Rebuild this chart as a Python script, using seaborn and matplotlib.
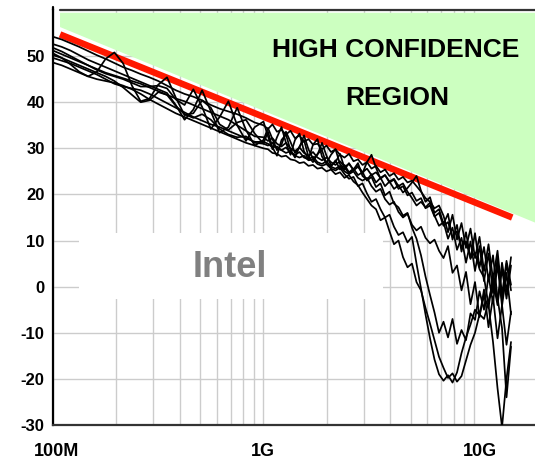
import numpy as np
import pandas as pd
import matplotlib
matplotlib.use("Agg")
import matplotlib.pyplot as plt
import matplotlib.transforms as mtransforms
import seaborn as sns
from matplotlib.ticker import LogLocator, NullFormatter, FixedLocator
from matplotlib.patches import Rectangle

# Measurement frequency grid (Hz): coarse below 1 GHz, dense above
freq_lo = 1e8 * 10 ** (np.arange(24) / 24)
freq_hi = 1e9 * 15 ** (np.arange(56) / 55)
freq = np.concatenate([freq_lo, freq_hi])

# Measured traces (dB)
trace_1 = [54.2, 53.6, 52.8, 52.0, 51.1, 50.2, 49.4, 48.5, 47.6, 46.9, 46.1, 45.4,
           44.6, 43.6, 42.6, 41.8, 41.2, 40.4, 39.4, 38.6, 38.0, 37.4, 36.6, 35.6,
           35.0, 34.2, 35.2, 33.6, 34.0, 33.0, 33.8, 32.2, 32.8, 31.4, 32.0, 30.8,
           31.0, 29.8, 30.6, 29.2, 29.8, 28.6, 28.0, 28.8, 27.2, 27.6, 26.4, 27.0,
           25.6, 26.2, 24.8, 25.4, 24.0, 24.6, 23.2, 23.8, 22.6, 23.0, 21.8, 20.6,
           19.2, 18.4, 17.0, 17.6, 15.4, 11.8, 15.6, 10.2, 13.8, 8.4, 12.6, 6.2,
           10.8, 3.4, 9.2, 1.6, 7.8, -1.8, 5.6, 0.4]
trace_2 = [50.6, 49.6, 48.2, 46.6, 45.6, 46.6, 49.4, 50.8, 48.4, 43.6, 40.2, 40.8,
           43.8, 45.4, 41.0, 37.2, 37.6, 40.4, 38.8, 35.2, 34.0, 35.6, 36.2, 33.2,
           31.0, 33.6, 30.2, 28.4, 31.8, 33.0, 29.6, 28.0, 30.4, 31.8, 28.2, 27.0,
           28.8, 29.6, 26.6, 26.0, 27.4, 25.4, 26.4, 24.8, 25.6, 24.2, 24.8, 23.0,
           23.8, 21.6, 22.4, 19.8, 20.6, 18.0, 17.2, 15.4, 16.0, 12.8, 10.4, 6.8,
           2.2, -1.8, -5.6, -10.0, -7.6, -11.0, -7.0, -12.4, -9.4, -11.6, -5.8, -7.2,
           -1.0, -5.0, 2.4, -3.6, 4.8, -4.2, 3.0, -6.0]
trace_3 = [51.8, 51.0, 50.0, 49.0, 48.0, 47.0, 46.2, 45.6, 45.0, 44.2, 43.4, 43.4,
           43.6, 43.0, 40.6, 39.4, 42.8, 39.0, 34.2, 36.8, 40.2, 35.0, 31.6, 34.6,
           35.8, 32.6, 29.8, 32.4, 34.6, 31.2, 28.6, 31.8, 33.2, 29.4, 27.6, 30.8,
           32.0, 28.2, 26.8, 28.6, 29.8, 26.6, 25.4, 26.8, 25.2, 26.0, 24.6, 27.0,
           28.6, 25.8, 23.4, 24.2, 22.6, 23.2, 21.2, 21.8, 19.8, 20.4, 18.6, 19.2,
           17.0, 17.6, 15.2, 16.0, 13.2, 14.0, 10.8, 12.0, 8.6, 9.8, 6.2, 7.4,
           3.8, 2.0, -4.0, -12.0, -22.0, -30.5, -20.0, -12.0]
trace_4 = [48.6, 48.0, 47.2, 46.4, 45.6, 45.0, 44.6, 44.2, 43.6, 42.8, 41.8, 40.6,
           39.6, 38.6, 37.6, 36.8, 36.0, 35.2, 34.4, 33.6, 32.8, 32.0, 31.2, 30.6,
           30.0, 29.8, 29.0, 28.8, 28.2, 28.4, 27.6, 27.4, 26.8, 27.0, 26.2, 26.4,
           25.6, 25.8, 25.0, 25.4, 24.4, 24.8, 23.6, 24.2, 22.8, 22.0, 20.4, 19.0,
           17.6, 16.8, 14.4, 15.0, 12.0, 9.2, 10.0, 6.4, 4.2, 5.0, 1.0, -0.8,
           -4.6, -8.0, -11.6, -15.2, -17.6, -19.8, -18.8, -20.6, -19.4, -16.0, -12.6, -10.0,
           -6.0, -7.0, -3.2, 1.4, -4.0, 3.8, -2.6, 4.6]
trace_5 = [49.6, 49.0, 48.4, 47.6, 46.8, 46.0, 45.0, 44.0, 43.4, 43.0, 42.6, 41.8,
           40.8, 39.8, 38.8, 37.8, 36.8, 36.0, 35.2, 34.6, 33.8, 33.0, 32.2, 31.4,
           31.4, 31.0, 30.2, 30.4, 29.6, 29.0, 29.4, 28.4, 28.0, 28.4, 27.4, 27.6,
           26.6, 26.2, 26.6, 25.6, 25.2, 25.8, 24.4, 23.4, 23.8, 21.8, 22.4, 20.2,
           18.4, 19.0, 16.8, 15.0, 15.6, 13.0, 11.2, 11.8, 9.6, 10.8, 5.0, -0.4,
           -6.0, -11.2, -15.8, -19.0, -20.4, -19.2, -20.8, -18.6, -14.4, -11.0, -8.2, -5.0,
           -6.2, -2.0, -4.6, 2.0, -3.2, 5.2, -1.0, 6.4]
trace_6 = [52.6, 52.0, 51.2, 50.2, 49.2, 48.4, 47.6, 46.8, 46.0, 45.2, 44.4, 43.6,
           42.8, 42.0, 39.4, 36.2, 38.4, 42.6, 38.0, 33.4, 34.6, 38.8, 34.0, 30.6,
           31.8, 34.4, 32.0, 29.6, 30.8, 33.6, 31.4, 29.0, 30.2, 32.8, 29.8, 27.8,
           28.6, 31.2, 28.4, 26.4, 27.0, 28.8, 25.8, 24.6, 25.4, 26.8, 24.0, 23.2,
           24.4, 22.6, 23.6, 21.8, 22.8, 21.2, 22.0, 20.4, 21.4, 22.6, 24.0, 20.8,
           18.4, 19.4, 16.0, 16.8, 13.6, 15.8, 10.2, 13.4, 7.6, 11.8, 6.0, 11.6,
           4.2, 8.6, 1.4, 6.8, -2.4, -9.0, -24.0, -13.0]
trace_7 = [50.2, 49.6, 48.8, 48.0, 47.2, 46.4, 45.6, 44.6, 43.2, 41.6, 40.0, 40.4,
           42.2, 41.6, 39.2, 37.4, 36.6, 37.4, 36.2, 34.2, 33.0, 32.4, 32.6, 31.2,
           31.0, 30.6, 31.2, 30.0, 29.6, 30.2, 29.0, 28.6, 29.2, 28.0, 27.6, 28.2,
           27.0, 26.6, 27.2, 26.0, 25.6, 26.2, 25.0, 24.4, 25.0, 23.6, 23.0, 23.6,
           21.8, 20.6, 21.2, 19.0, 17.8, 18.4, 16.2, 15.0, 15.8, 13.4, 12.2, 13.0,
           10.6, 9.4, 10.2, 7.8, 6.2, 8.8, 3.0, 4.6, -0.8, 3.2, -3.8, 1.0,
           -6.6, -0.6, -8.8, -2.2, -11.2, -4.0, -12.6, -5.4]
trace_8 = [51.2, 50.4, 49.6, 48.8, 48.0, 47.2, 46.4, 45.8, 45.2, 44.6, 44.0, 43.2,
           42.4, 41.6, 40.8, 40.2, 39.4, 38.6, 37.8, 37.0, 36.2, 35.0, 33.8, 32.6,
           32.4, 31.6, 32.2, 31.0, 30.4, 31.2, 30.0, 29.4, 30.2, 29.0, 28.4, 29.2,
           28.0, 27.4, 28.0, 27.0, 26.4, 27.2, 26.0, 26.6, 25.4, 26.2, 24.8, 25.6,
           24.2, 24.8, 23.6, 24.2, 22.8, 23.4, 21.8, 22.4, 20.6, 19.2, 17.6, 18.4,
           17.2, 18.2, 15.4, 13.2, 14.0, 10.4, 12.8, 8.0, 10.6, 5.2, 9.8, 3.4,
           8.8, 1.2, 7.2, -1.4, 6.2, -3.0, 5.0, -0.8]

# Confidence limit line and the region above it
limit_freq = [1.08e8, 1.52e10]
limit_db = [54.7, 15.0]
region_freq = [1.08e8, 1.95e10, 1.95e10, 1.08e8]
region_db = [59.4, 59.4, 13.9, 56.3]

# Blank panel behind the watermark
blank_freq = [1.33e8, 3.7e9]
blank_db = [-2.7, 11.6]

ytick_vals = [-30, -20, -10, 0, 10, 20, 30, 40, 50]
xtick_vals = [1e8, 1e9, 1e10]
xtick_labels = ["100M", "1G", "10G"]

traces = [trace_1, trace_2, trace_3, trace_4, trace_5, trace_6, trace_7, trace_8]
df = pd.concat(
    [pd.DataFrame({"freq": freq, "db": t, "trace": f"T{k + 1}"}) for k, t in enumerate(traces)],
    ignore_index=True,
)

sns.set_theme(style="white")
plt.rcParams["font.family"] = ["Liberation Sans", "DejaVu Sans"]

fig = plt.figure(figsize=(5.35, 4.61), dpi=100)
ax = fig.add_axes([53 / 535, 36 / 461, 482 / 535, 415 / 461])

ax.set_xscale("log")
ax.set_xlim(1e8, 1.95e10)
ax.set_ylim(-30, 60)

# grid
ax.set_axisbelow(True)
ax.xaxis.set_major_locator(FixedLocator(xtick_vals))
ax.xaxis.set_minor_locator(LogLocator(base=10, subs=np.arange(2, 10)))
ax.xaxis.set_minor_formatter(NullFormatter())
ax.set_yticks(ytick_vals)
ax.grid(True, which="both", axis="x", color="#cccccc", lw=1.0)
ax.grid(True, which="major", axis="y", color="#cccccc", lw=1.0)

ax.add_patch(Rectangle((blank_freq[0], blank_db[0]), blank_freq[1] - blank_freq[0],
                       blank_db[1] - blank_db[0], facecolor="white", edgecolor="none", zorder=0.9))
ax.fill(region_freq, region_db, color="#ccffc0", lw=0, zorder=1)
ax.plot(limit_freq, limit_db, color="#ff1800", lw=4.7, solid_capstyle="butt", zorder=2)

sns.lineplot(data=df, x="freq", y="db", hue="trace", palette=["black"] * len(traces),
             estimator=None, sort=False, legend=False, lw=1.25, ax=ax, zorder=3)

ax.text(4.26e9, 51.3, "HIGH CONFIDENCE", ha="center", va="center", fontsize=19,
        fontweight="bold", color="black", zorder=4)
ax.text(4.3e9, 40.9, "REGION", ha="center", va="center", fontsize=19,
        fontweight="bold", color="black", zorder=4)
ax.text(6.93e8, 4.06, "Intel", ha="center", va="center", fontsize=26,
        fontweight="bold", color="#808080", zorder=4)

ax.set_xlabel("")
ax.set_ylabel("")
ax.set_xticklabels(xtick_labels, fontsize=13, fontweight="bold", color="black")
ax.set_yticklabels([str(v) for v in ytick_vals], fontsize=12, fontweight="bold", color="black")
ax.tick_params(axis="both", which="both", length=0)
ax.tick_params(axis="y", pad=6)
ax.tick_params(axis="x", pad=13)

# nudge the frequency labels slightly to the right of their gridlines
for lab, dx in zip(ax.get_xticklabels(), [4, -1, 6]):
    lab.set_transform(lab.get_transform() + mtransforms.ScaledTranslation(dx / 100, 0, fig.dpi_scale_trans))

for side in ["top", "right"]:
    ax.spines[side].set_visible(False)
ax.spines["left"].set_color("black")
ax.spines["left"].set_linewidth(1.6)
ax.spines["bottom"].set_color("#333333")
ax.spines["bottom"].set_linewidth(1.6)
ax.plot([7 / 482, 1.0], [1.0, 1.0], transform=ax.transAxes, color="#333333",
        lw=1.6, clip_on=False, zorder=5)
ax.plot([0, 0], [1.0, 1.008], transform=ax.transAxes, color="black",
        lw=1.6, clip_on=False, zorder=5)

fig.savefig("out.png", dpi=100)
